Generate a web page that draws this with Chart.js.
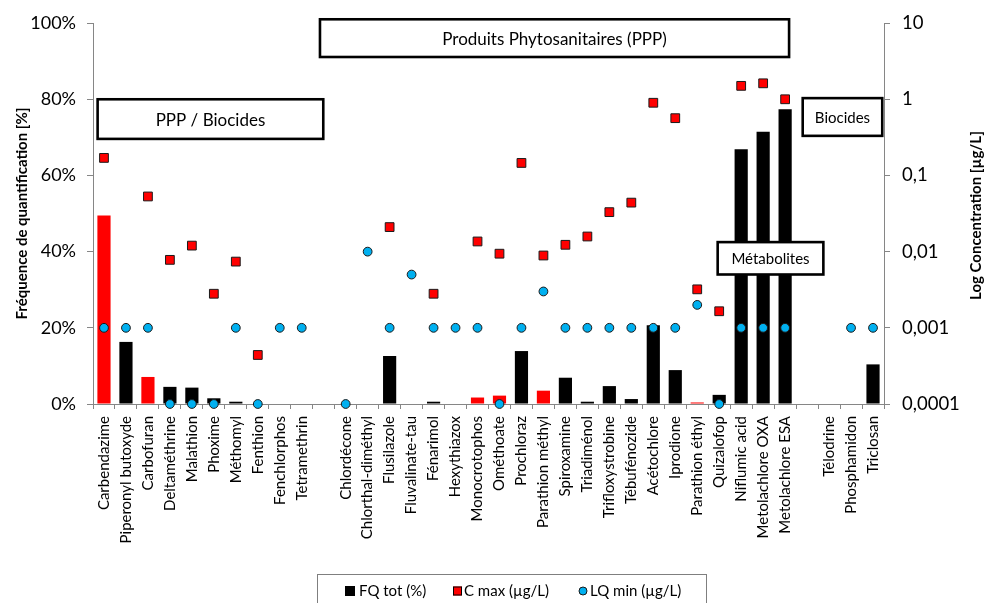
<!DOCTYPE html>
<html>
<head>
<meta charset="utf-8">
<script src="https://cdn.jsdelivr.net/npm/chart.js@4/dist/chart.umd.min.js"></script>
<style>
  html, body { margin: 0; padding: 0; background: #ffffff; }
  #wrap { width: 984px; height: 603px; position: relative; }
</style>
</head>
<body>
<div id="wrap"><canvas id="chart" width="984" height="603"></canvas></div>
<script>
// Substances (empty strings are spacer slots between groups)
const categories = [
  'Carbendazime', 'Piperonyl butoxyde', 'Carbofuran', 'Deltaméthrine', 'Malathion',
  'Phoxime', 'Méthomyl', 'Fenthion', 'Fenchlorphos', 'Tetramethrin', '',
  'Chlordécone', 'Chlorthal-diméthyl', 'Flusilazole', 'Fluvalinate-tau', 'Fénarimol',
  'Hexythiazox', 'Monocrotophos', 'Ométhoate', 'Prochloraz', 'Parathion méthyl',
  'Spiroxamine', 'Triadiménol', 'Trifloxystrobine', 'Tébufénozide', 'Acétochlore',
  'Iprodione', 'Parathion éthyl', 'Quizalofop', 'Niflumic acid', 'Metolachlore OXA',
  'Metolachlore ESA', '', 'Télodrine', 'Phosphamidon', 'Triclosan'
];

// Quantification frequency, in %
const fqTot = [
  49.5, 16.3, 7.1, 4.5, 4.3,
  1.5, 0.6, 0, 0, 0, null,
  0, 0, 12.6, 0, 0.6,
  0, 1.7, 2.2, 13.9, 3.5,
  6.9, 0.6, 4.7, 1.3, 20.7,
  8.9, 0.4, 2.4, 66.9, 71.5,
  77.4, null, 0, 0, 10.4
];

// Maximum concentration, in µg/L
const cMax = [
  0.17, null, 0.053, 0.0078, 0.012,
  0.0028, 0.0074, 0.00044, null, null, null,
  null, null, 0.021, null, 0.0028,
  null, 0.0136, 0.0094, 0.146, 0.0089,
  0.0123, 0.0158, 0.033, 0.044, 0.9,
  0.565, 0.0032, 0.00165, 1.5, 1.62,
  1.0, null, null, null, null
];

// Minimum limit of quantification, in µg/L
const lqMin = [
  0.001, 0.001, 0.001, 0.0001, 0.0001,
  0.0001, 0.001, 0.0001, 0.001, 0.001, null,
  0.0001, 0.01, 0.001, 0.005, 0.001,
  0.001, 0.001, 0.0001, 0.001, 0.003,
  0.001, 0.001, 0.001, 0.001, 0.001,
  0.001, 0.002, 0.0001, 0.001, 0.001,
  0.001, null, null, 0.001, 0.001
];

// Substances whose frequency bar is shown in red
const redBarSubstances = [
  'Carbendazime', 'Carbofuran', 'Monocrotophos', 'Ométhoate', 'Parathion méthyl', 'Parathion éthyl'
];

const freqTicks = [0, 20, 40, 60, 80, 100];
const concTicks = [0.0001, 0.001, 0.01, 0.1, 1, 10];
const concTickLabels = ['0,0001', '0,001', '0,01', '0,1', '1', '10'];

const seriesNames = ['FQ tot (%)', 'C max (µg/L)', 'LQ min (µg/L)'];
const groupNames = ['Produits Phytosanitaires (PPP)', 'PPP / Biocides', 'Biocides', 'Métabolites'];

const FONT = 'Lato, "Open Sans", "DejaVu Sans", sans-serif';
const AXIS_GREY = '#868686';
const RED = '#FF0000';
const BLUE = '#00B0F0';

// Group boxes, placed in category-index / percent units
const groupBoxLayout = [
  { from: 9.83, to: 31.18, top: 101.0, bottom: 91.1, size: 17 },
  { from: -0.29, to: 9.98, top: 80.0, bottom: 69.6, size: 17 },
  { from: 31.80, to: 35.42, top: 80.3, bottom: 70.4, size: 15 },
  { from: 27.93, to: 32.74, top: 42.5, bottom: 34.0, size: 15 }
];

const decorations = {
  id: 'decorations',
  afterDatasetsDraw(chart) {
    const { ctx } = chart;
    const x = chart.scales.x, y = chart.scales.y;
    const slot = (x.getPixelForValue(1) - x.getPixelForValue(0));
    ctx.save();
    groupBoxLayout.forEach((b, i) => {
      const x0 = x.getPixelForValue(0) + b.from * slot;
      const x1 = x.getPixelForValue(0) + b.to * slot;
      const y0 = y.getPixelForValue(b.top);
      const y1 = y.getPixelForValue(b.bottom);
      ctx.fillStyle = '#ffffff';
      ctx.fillRect(x0, y0, x1 - x0, y1 - y0);
      ctx.strokeStyle = '#000000';
      ctx.lineWidth = 2.6;
      ctx.strokeRect(x0, y0, x1 - x0, y1 - y0);
      ctx.fillStyle = '#000000';
      ctx.font = b.size + 'px ' + FONT;
      ctx.textAlign = 'center';
      ctx.textBaseline = 'middle';
      ctx.fillText(groupNames[i], (x0 + x1) / 2, (y0 + y1) / 2 + 1);
    });
    ctx.restore();
  },
  afterDraw(chart) {
    const { ctx, chartArea } = chart;
    ctx.save();
    // right axis title, reading bottom to top
    ctx.translate(976, (chartArea.top + chartArea.bottom) / 2 + 2);
    ctx.rotate(-Math.PI / 2);
    ctx.fillStyle = '#000000';
    ctx.font = 'bold 15px ' + FONT;
    ctx.textAlign = 'center';
    ctx.textBaseline = 'middle';
    ctx.fillText('Log Concentration [µg/L]', 0, 0);
    ctx.restore();

    // legend
    ctx.save();
    ctx.strokeStyle = '#7f7f7f';
    ctx.lineWidth = 1;
    ctx.strokeRect(317.5, 574.5, 389, 40);
    ctx.font = '15px ' + FONT;
    ctx.textBaseline = 'middle';
    ctx.textAlign = 'left';
    const ly = 591;
    // FQ tot
    ctx.fillStyle = '#000000';
    ctx.fillRect(345, ly - 5, 10, 10);
    ctx.fillText(seriesNames[0], 359, ly);
    // C max
    ctx.fillStyle = RED;
    ctx.fillRect(453, ly - 4.5, 9, 9);
    ctx.strokeStyle = '#000000';
    ctx.strokeRect(453.5, ly - 4, 8, 8);
    ctx.fillStyle = '#000000';
    ctx.fillText(seriesNames[1], 464, ly);
    // LQ min
    ctx.beginPath();
    ctx.arc(583, ly, 4, 0, Math.PI * 2);
    ctx.fillStyle = BLUE;
    ctx.fill();
    ctx.strokeStyle = '#1a1a1a';
    ctx.stroke();
    ctx.fillStyle = '#000000';
    ctx.fillText(seriesNames[2], 590, ly);
    ctx.restore();
  }
};

const ctx = document.getElementById('chart').getContext('2d');
new Chart(ctx, {
  type: 'bar',
  data: {
    labels: categories,
    datasets: [
      {
        type: 'line',
        label: seriesNames[2],
        data: lqMin,
        yAxisID: 'y1',
        showLine: false,
        pointStyle: 'circle',
        pointRadius: 4.4,
        pointBackgroundColor: BLUE,
        pointBorderColor: '#1a1a1a',
        pointBorderWidth: 1,
        clip: false,
        order: 0
      },
      {
        type: 'line',
        label: seriesNames[1],
        data: cMax,
        yAxisID: 'y1',
        showLine: false,
        pointStyle: 'rect',
        pointRadius: 6.2,
        pointBackgroundColor: RED,
        pointBorderColor: '#1a1a1a',
        pointBorderWidth: 1,
        clip: false,
        order: 1
      },
      {
        type: 'bar',
        label: seriesNames[0],
        data: fqTot,
        yAxisID: 'y',
        backgroundColor: categories.map(c => redBarSubstances.includes(c) ? RED : '#000000'),
        borderWidth: 0,
        barPercentage: 0.6,
        categoryPercentage: 1.0,
        order: 2
      }
    ]
  },
  options: {
    responsive: false,
    animation: false,
    devicePixelRatio: 1,
    layout: { padding: { top: 22, bottom: 0, left: 0, right: 0 } },
    plugins: {
      legend: { display: false },
      tooltip: { enabled: false }
    },
    scales: {
      x: {
        type: 'category',
        offset: true,
        grid: { display: true, drawOnChartArea: false, offset: true, tickLength: 5, color: AXIS_GREY },
        border: { display: true, color: AXIS_GREY },
        ticks: {
          autoSkip: false,
          minRotation: 90,
          maxRotation: 90,
          padding: 7,
          color: '#000000',
          font: { family: FONT, size: 15 }
        },
        afterFit(scale) { scale.height = 199; }
      },
      y: {
        type: 'linear',
        position: 'left',
        min: 0,
        max: 100,
        afterBuildTicks(scale) { scale.ticks = freqTicks.map(v => ({ value: v })); },
        grid: { display: true, drawOnChartArea: false, tickLength: 6, color: AXIS_GREY },
        border: { display: true, color: AXIS_GREY },
        ticks: {
          padding: 11,
          color: '#000000',
          font: { family: FONT, size: 18 },
          callback: v => v + '%'
        },
        title: {
          display: true,
          text: 'Fréquence de quantification [%]',
          color: '#000000',
          font: { family: FONT, size: 15, weight: 'bold' },
          padding: { top: 13, bottom: 0 }
        },
        afterFit(scale) { scale.width = 93; }
      },
      y1: {
        type: 'logarithmic',
        position: 'right',
        min: 0.0001,
        max: 10,
        afterBuildTicks(scale) { scale.ticks = concTicks.map(v => ({ value: v })); },
        grid: { display: true, drawOnChartArea: false, tickLength: 6, color: AXIS_GREY },
        border: { display: true, color: AXIS_GREY },
        ticks: {
          padding: 12,
          color: '#000000',
          font: { family: FONT, size: 18.5 },
          callback: v => concTickLabels[concTicks.indexOf(v)]
        },
        afterFit(scale) { scale.width = 100; }
      }
    }
  },
  plugins: [decorations]
});
</script>
</body>
</html>
